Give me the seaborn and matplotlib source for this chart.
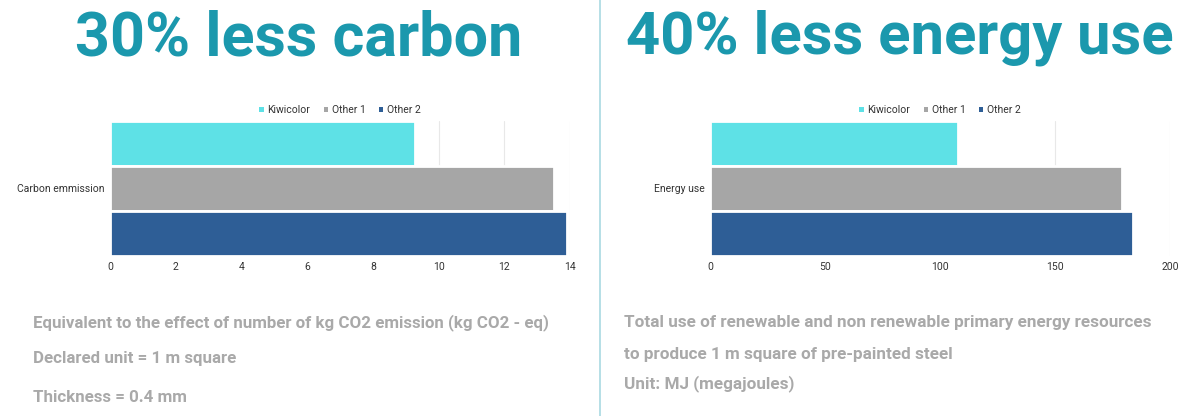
import matplotlib
matplotlib.use("Agg")
import matplotlib.pyplot as plt
import seaborn as sns
import pandas as pd

# ---- data ----
series = ["Kiwicolor", "Other 1", "Other 2"]
carbon_values = [9.28, 13.5, 13.9]
energy_values = [107.8, 179, 184]
carbon_ticks = [0, 2, 4, 6, 8, 10, 12, 14]
energy_ticks = [0, 50, 100, 150, 200]
titles = ["30% less carbon", "40% less energy use"]
category_labels = ["Carbon emmission", "Energy use"]
left_notes = ["Equivalent to the effect of number of kg CO2 emission (kg CO2 - eq)",
              "Declared unit = 1 m square",
              "Thickness = 0.4 mm"]
right_notes = ["Total use of renewable and non renewable primary energy resources",
               "to produce 1 m square of pre-painted steel",
               "Unit: MJ (megajoules)"]

colors = ["#5ee1e6", "#a6a6a6", "#2e5e96"]
teal = "#1b98ad"
note_gray = "#a9a9a9"

sns.set_theme(style="white")
plt.rcParams["font.family"] = ["Roboto", "DejaVu Sans"]

fig = plt.figure(figsize=(12, 4.16), dpi=100)
fig.patch.set_facecolor("white")

def draw(ax, cat, values, ticks, xmax):
    df = pd.DataFrame({"cat": [cat] * len(series), "series": series, "value": values})
    sns.barplot(data=df, x="value", y="cat", hue="series", hue_order=series,
                palette=colors, orient="h", width=1.0, ax=ax,
                edgecolor="white", linewidth=2.0, saturation=1.0)
    ax.set_xlim(0, xmax)
    ax.set_ylim(0.5, -0.5)
    ax.set_xticks(ticks)
    ax.set_xticklabels([str(t) for t in ticks], fontsize=7.5, color="#333333")
    ax.tick_params(axis="x", length=0, pad=4)
    ax.tick_params(axis="y", length=0, pad=4, labelsize=7.5, labelcolor="#333333")
    ax.set_xlabel("")
    ax.set_ylabel("")
    for s in ax.spines.values():
        s.set_visible(False)
    ax.grid(axis="x", color="#e8e8e8", linewidth=0.8)
    ax.set_axisbelow(True)
    leg = ax.legend(loc="lower center", bbox_to_anchor=(0.5, 1.0), ncol=3, frameon=False,
                    fontsize=7.5, handlelength=0.4, handleheight=0.4, handletextpad=0.35,
                    columnspacing=1.3, borderaxespad=0.15, labelcolor="#333333")
    for h in leg.legend_handles:
        h.set_edgecolor("none")

ax1 = fig.add_axes([110 / 1200, (416 - 256) / 416, 460 / 1200, 135 / 416])
draw(ax1, category_labels[0], carbon_values, carbon_ticks, 14)
ax2 = fig.add_axes([710 / 1200, (416 - 256) / 416, 460 / 1200, 135 / 416])
draw(ax2, category_labels[1], energy_values, energy_ticks, 200)

# divider
fig.add_artist(plt.Line2D([0.5, 0.5], [0, 1], color="#a9d9e2", linewidth=1.2,
                          transform=fig.transFigure))

# titles
fig.text(299 / 1200, 1 - 38 / 416, titles[0], ha="center", va="center",
         fontsize=44, fontweight="bold", color=teal)
fig.text(900 / 1200, 1 - 38 / 416, titles[1], ha="center", va="center",
         fontsize=43, fontweight="bold", color=teal)

# notes
for txt, y in zip(left_notes, [323, 359, 398]):
    fig.text(33 / 1200, 1 - y / 416, txt, ha="left", va="center",
             fontsize=12.2, fontweight="bold", color=note_gray)
for txt, y in zip(right_notes, [323, 354, 384]):
    fig.text(624 / 1200, 1 - y / 416, txt, ha="left", va="center",
             fontsize=12.3, fontweight="bold", color=note_gray)

fig.savefig("out.png", dpi=100, facecolor="white")
